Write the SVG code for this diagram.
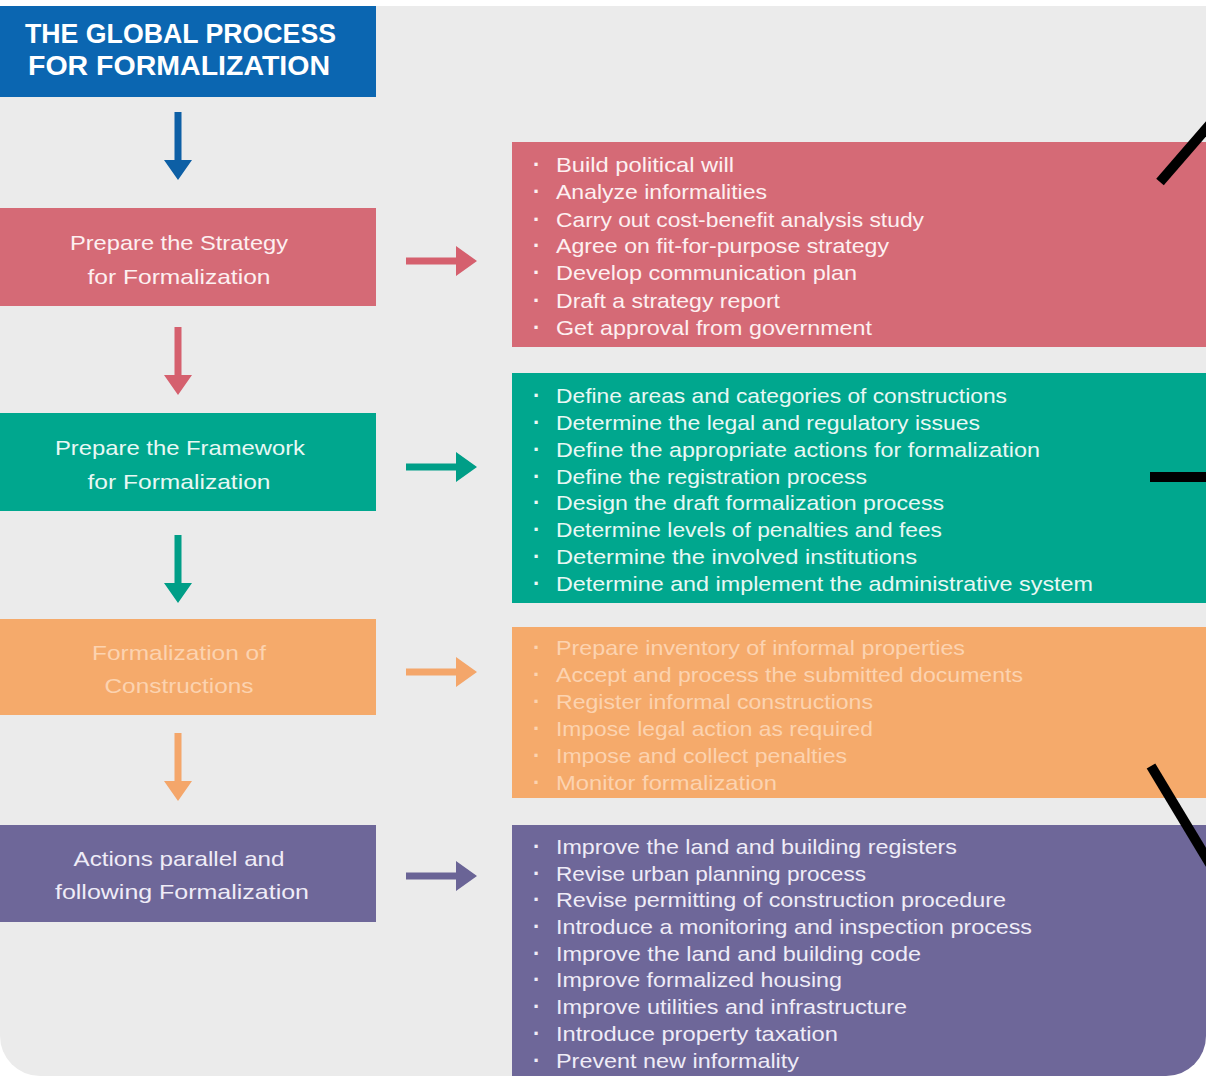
<svg xmlns="http://www.w3.org/2000/svg" width="1206" height="1076" viewBox="0 0 1206 1076">
<style>
.bg{fill:#ebebeb}
.hdr{font-family:"Liberation Sans",Arial,sans-serif;font-weight:bold;font-size:27px;fill:#ffffff}
.lbl{font-family:"Liberation Sans",Arial,sans-serif;font-size:21px;text-anchor:middle}
.itm{font-family:"Liberation Sans",Arial,sans-serif;font-size:21px}
.bul{font-weight:bold;font-size:22px}
.pink{fill:#d56a76}.teal{fill:#00a78e}.orange{fill:#f5aa6b}.purple{fill:#6e6799}.blue{fill:#0b66b1}
.tp{fill:#fdf0f1}.tt{fill:#e8f8f4}.to{fill:#fcd3b0}.tu{fill:#efecf7}
.mark{stroke:#000;stroke-width:10;fill:none}
</style>
<defs>
<path id="darr" d="M-3.5,0 H3.5 V48 H14 L0,68 L-14,48 H-3.5 Z"/>
<path id="rarr" d="M0,-3.5 H50 V-15 L71,0 L50,15 V3.5 H0 Z"/>
</defs>
<rect width="1206" height="1076" fill="#ffffff"/>
<rect class="bg" x="0" y="6" width="1206" height="1070" rx="40" ry="40"/>
<rect class="bg" x="0" y="6" width="1206" height="1000"/>

<g id="title">
<rect class="blue" x="0" y="6" width="376" height="91"/>
<text class="hdr" x="25" y="43" textLength="311" lengthAdjust="spacingAndGlyphs">THE GLOBAL PROCESS</text>
<text class="hdr" x="28" y="75" textLength="302" lengthAdjust="spacingAndGlyphs">FOR FORMALIZATION</text>
</g>

<g id="strategy">
<rect class="pink" x="0" y="208" width="376" height="98"/>
<text class="lbl tp" x="179" y="250" textLength="218" lengthAdjust="spacingAndGlyphs">Prepare the Strategy</text>
<text class="lbl tp" x="179" y="284" textLength="183" lengthAdjust="spacingAndGlyphs">for Formalization</text>
</g>
<g id="strategy-tasks">
<rect class="pink" x="512" y="142" width="694" height="205"/>
<g class="itm tp">
<text class="bul" x="533" y="172">·</text><text x="556" y="172" textLength="178" lengthAdjust="spacingAndGlyphs">Build political will</text>
<text class="bul" x="533" y="199">·</text><text x="556" y="199" textLength="211" lengthAdjust="spacingAndGlyphs">Analyze informalities</text>
<text class="bul" x="533" y="227">·</text><text x="556" y="227" textLength="368" lengthAdjust="spacingAndGlyphs">Carry out cost-benefit analysis study</text>
<text class="bul" x="533" y="253">·</text><text x="556" y="253" textLength="333" lengthAdjust="spacingAndGlyphs">Agree on fit-for-purpose strategy</text>
<text class="bul" x="533" y="280">·</text><text x="556" y="280" textLength="301" lengthAdjust="spacingAndGlyphs">Develop communication plan</text>
<text class="bul" x="533" y="308">·</text><text x="556" y="308" textLength="224" lengthAdjust="spacingAndGlyphs">Draft a strategy report</text>
<text class="bul" x="533" y="335">·</text><text x="556" y="335" textLength="316" lengthAdjust="spacingAndGlyphs">Get approval from government</text>
</g>
</g>

<g id="framework">
<rect class="teal" x="0" y="413" width="376" height="98"/>
<text class="lbl tt" x="180" y="455" textLength="250" lengthAdjust="spacingAndGlyphs">Prepare the Framework</text>
<text class="lbl tt" x="179" y="489" textLength="183" lengthAdjust="spacingAndGlyphs">for Formalization</text>
</g>
<g id="framework-tasks">
<rect class="teal" x="512" y="373" width="694" height="230"/>
<g class="itm tt">
<text class="bul" x="533" y="403">·</text><text x="556" y="403" textLength="451" lengthAdjust="spacingAndGlyphs">Define areas and categories of constructions</text>
<text class="bul" x="533" y="430">·</text><text x="556" y="430" textLength="424" lengthAdjust="spacingAndGlyphs">Determine the legal and regulatory issues</text>
<text class="bul" x="533" y="457">·</text><text x="556" y="457" textLength="484" lengthAdjust="spacingAndGlyphs">Define the appropriate actions for formalization</text>
<text class="bul" x="533" y="484">·</text><text x="556" y="484" textLength="311" lengthAdjust="spacingAndGlyphs">Define the registration process</text>
<text class="bul" x="533" y="510">·</text><text x="556" y="510" textLength="388" lengthAdjust="spacingAndGlyphs">Design the draft formalization process</text>
<text class="bul" x="533" y="537">·</text><text x="556" y="537" textLength="386" lengthAdjust="spacingAndGlyphs">Determine levels of penalties and fees</text>
<text class="bul" x="533" y="564">·</text><text x="556" y="564" textLength="361" lengthAdjust="spacingAndGlyphs">Determine the involved institutions</text>
<text class="bul" x="533" y="591">·</text><text x="556" y="591" textLength="537" lengthAdjust="spacingAndGlyphs">Determine and implement the administrative system</text>
</g>
</g>

<g id="constructions">
<rect class="orange" x="0" y="619" width="376" height="96"/>
<text class="lbl to" x="179" y="660" textLength="174" lengthAdjust="spacingAndGlyphs">Formalization of</text>
<text class="lbl to" x="179" y="693" textLength="149" lengthAdjust="spacingAndGlyphs">Constructions</text>
</g>
<g id="constructions-tasks">
<rect class="orange" x="512" y="627" width="694" height="171"/>
<g class="itm to">
<text class="bul" x="533" y="655">·</text><text x="556" y="655" textLength="409" lengthAdjust="spacingAndGlyphs">Prepare inventory of informal properties</text>
<text class="bul" x="533" y="682">·</text><text x="556" y="682" textLength="467" lengthAdjust="spacingAndGlyphs">Accept and process the submitted documents</text>
<text class="bul" x="533" y="709">·</text><text x="556" y="709" textLength="317" lengthAdjust="spacingAndGlyphs">Register informal constructions</text>
<text class="bul" x="533" y="736">·</text><text x="556" y="736" textLength="317" lengthAdjust="spacingAndGlyphs">Impose legal action as required</text>
<text class="bul" x="533" y="763">·</text><text x="556" y="763" textLength="291" lengthAdjust="spacingAndGlyphs">Impose and collect penalties</text>
<text class="bul" x="533" y="790">·</text><text x="556" y="790" textLength="221" lengthAdjust="spacingAndGlyphs">Monitor formalization</text>
</g>
</g>

<g id="parallel">
<rect class="purple" x="0" y="825" width="376" height="97"/>
<text class="lbl tu" x="179" y="866" textLength="211" lengthAdjust="spacingAndGlyphs">Actions parallel and</text>
<text class="lbl tu" x="182" y="899" textLength="254" lengthAdjust="spacingAndGlyphs">following Formalization</text>
</g>
<g id="parallel-tasks">
<path class="purple" d="M512,825 H1206 V1036 A40,40 0 0 1 1166,1076 H512 Z"/>
<g class="itm tu">
<text class="bul" x="533" y="854">·</text><text x="556" y="854" textLength="401" lengthAdjust="spacingAndGlyphs">Improve the land and building registers</text>
<text class="bul" x="533" y="881">·</text><text x="556" y="881" textLength="310" lengthAdjust="spacingAndGlyphs">Revise urban planning process</text>
<text class="bul" x="533" y="907">·</text><text x="556" y="907" textLength="450" lengthAdjust="spacingAndGlyphs">Revise permitting of construction procedure</text>
<text class="bul" x="533" y="934">·</text><text x="556" y="934" textLength="476" lengthAdjust="spacingAndGlyphs">Introduce a monitoring and inspection process</text>
<text class="bul" x="533" y="961">·</text><text x="556" y="961" textLength="365" lengthAdjust="spacingAndGlyphs">Improve the land and building code</text>
<text class="bul" x="533" y="987">·</text><text x="556" y="987" textLength="286" lengthAdjust="spacingAndGlyphs">Improve formalized housing</text>
<text class="bul" x="533" y="1014">·</text><text x="556" y="1014" textLength="351" lengthAdjust="spacingAndGlyphs">Improve utilities and infrastructure</text>
<text class="bul" x="533" y="1041">·</text><text x="556" y="1041" textLength="282" lengthAdjust="spacingAndGlyphs">Introduce property taxation</text>
<text class="bul" x="533" y="1068">·</text><text x="556" y="1068" textLength="243" lengthAdjust="spacingAndGlyphs">Prevent new informality</text>
</g>
</g>

<g id="connectors">
<use href="#darr" x="178" y="112" fill="#0d5fa5"/>
<use href="#darr" x="178" y="327" fill="#d5606e"/>
<use href="#darr" x="178" y="535" fill="#009e87"/>
<use href="#darr" x="178" y="733" fill="#f4a66a"/>
<use href="#rarr" x="406" y="261" fill="#d5606e"/>
<use href="#rarr" x="406" y="467" fill="#009e87"/>
<use href="#rarr" x="406" y="672" fill="#f4a66a"/>
<use href="#rarr" x="406" y="876" fill="#6a6496"/>
</g>

<g id="marks">
<line class="mark" x1="1160" y1="182" x2="1212" y2="122"/>
<line class="mark" x1="1150" y1="477" x2="1210" y2="477" stroke-width="12"/>
<line class="mark" x1="1151" y1="766" x2="1210" y2="864"/>
</g>
</svg>
